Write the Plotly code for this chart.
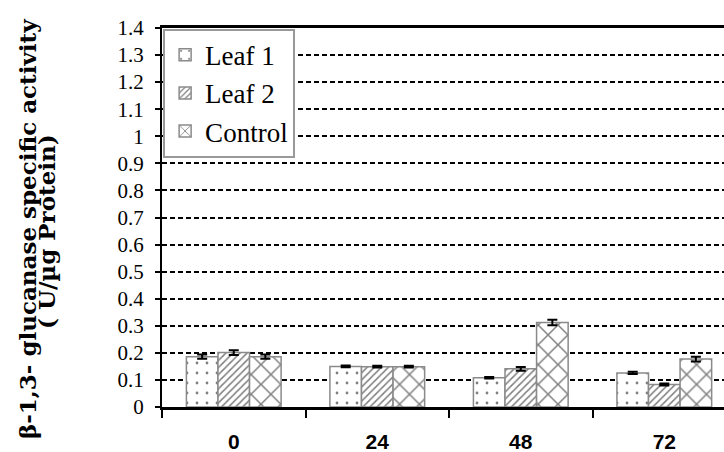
import plotly.graph_objects as go

categories = ["0", "24", "48", "72"]
series_names = ["Leaf 1", "Leaf 2", "Control"]
leaf1 = [0.186, 0.150, 0.108, 0.126]
leaf1_err = [0.008, 0.003, 0.003, 0.004]
leaf2 = [0.201, 0.149, 0.141, 0.083]
leaf2_err = [0.009, 0.003, 0.007, 0.004]
control = [0.186, 0.149, 0.312, 0.177]
control_err = [0.008, 0.003, 0.010, 0.009]
y_ticks = [0.0, 0.1, 0.2, 0.3, 0.4, 0.5, 0.6, 0.7, 0.8, 0.9, 1.0, 1.1, 1.2, 1.3, 1.4]
y_tick_labels = ["0", "0.1", "0.2", "0.3", "0.4", "0.5", "0.6", "0.7", "0.8", "0.9",
                 "1", "1.1", "1.2", "1.3", "1.4"]
y_title_1 = "β-1,3- glucanase specific activity"
y_title_2 = "( U/µg Protein)"

SERIF = "Liberation Serif"

patterns = [
    dict(shape=".", size=10, solidity=0.06, fgcolor="black", bgcolor="white"),
    dict(shape="/", size=5, solidity=0.3, fgcolor="black", bgcolor="white"),
    dict(shape="x", size=14, solidity=0.2, fgcolor="black", bgcolor="white"),
]

fig = go.Figure()
for name, vals, errs, pat in zip(series_names, [leaf1, leaf2, control],
                                 [leaf1_err, leaf2_err, control_err], patterns):
    fig.add_trace(go.Bar(
        x=categories, y=vals, name=name,
        marker=dict(color="white", pattern=pat, line=dict(color="#8a8a8a", width=1.5)),
        error_y=dict(type="data", array=errs, color="black", thickness=2, width=5),
    ))

fig.update_layout(
    width=724, height=452,
    margin=dict(l=162, r=0, t=28, b=45),
    paper_bgcolor="white", plot_bgcolor="white",
    font=dict(family=SERIF, color="black"),
    barmode="group", bargap=0.34, bargroupgap=0,
    showlegend=True,
    legend=dict(
        x=0.002, y=0.998, xanchor="left", yanchor="top",
        bgcolor="white", bordercolor="#999999", borderwidth=2,
        font=dict(family=SERIF, size=27, color="black"),
        itemwidth=30, tracegroupgap=0,
    ),
    xaxis=dict(
        type="category", range=[-0.5, 3.416],
        showline=True, linecolor="black", linewidth=3, mirror=True,
        ticks="outside", tickson="boundaries", ticklen=8, tickwidth=2, tickcolor="black",
        tickfont=dict(family="Liberation Sans", size=21, color="black", weight="bold"),
        ticklabelstandoff=14,
        showgrid=False,
    ),
    yaxis=dict(
        range=[0, 1.4], tickvals=y_ticks, ticktext=y_tick_labels,
        showline=True, linecolor="black", linewidth=2,
        ticks="outside", ticklen=5, tickwidth=1.5, tickcolor="black",
        tickfont=dict(family=SERIF, size=21, color="black"),
        ticklabelstandoff=7,
        showgrid=True, gridcolor="black", gridwidth=1.5, griddash="5px,3px",
        zeroline=False,
    ),
    annotations=[
        dict(text=y_title_1, textangle=-90, xref="paper", yref="paper",
             x=(27 - 162) / 562, y=(407 - 229) / 379, xanchor="center", yanchor="middle",
             showarrow=False,
             font=dict(family="DejaVu Serif", size=23, color="black", weight="bold")),
        dict(text=y_title_2, textangle=-90, xref="paper", yref="paper",
             x=(46 - 162) / 562, y=(407 - 232) / 379, xanchor="center", yanchor="middle",
             showarrow=False,
             font=dict(family="DejaVu Serif", size=23, color="black", weight="bold")),
    ],
)

fig.write_html("out.html")
